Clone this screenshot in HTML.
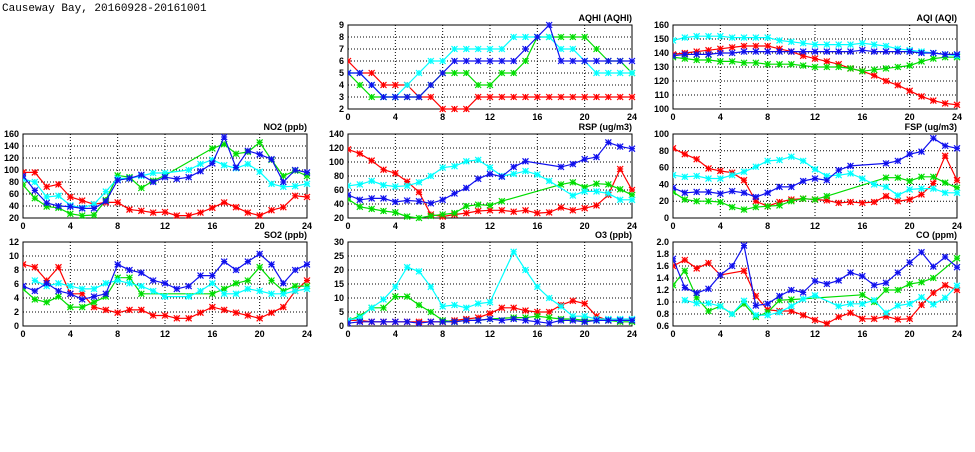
<!DOCTYPE html>
<html><head><meta charset="utf-8"><style>
body{margin:0;background:#fff;width:975px;height:447px;overflow:hidden;font-family:"Liberation Sans",sans-serif}
svg text{font-family:"Liberation Sans",sans-serif}
</style></head><body>
<svg id="chart" width="975" height="447" xmlns="http://www.w3.org/2000/svg">
<text x="2" y="11" font-size="11" font-family="Liberation Mono, monospace" style="font-family:'Liberation Mono',monospace">Causeway Bay, 20160928-20161001</text>
</svg>
<script>
const hours=[0,1,2,3,4,5,6,7,8,9,10,11,12,13,14,15,16,17,18,19,20,21,22,23,24];
const xTicks=[0,4,8,12,16,20,24];
const seriesColors=["#ff0000","#00dd00","#00ffff","#1010ee"];
const N=null;
// AQHI
const aqhiTicks=[2,3,4,5,6,7,8,9];
const aqhiRed=[6,5,5,4,4,4,3,3,2,2,2,3,3,3,3,3,3,3,3,3,3,3,3,3,3];
const aqhiGreen=[5,4,3,3,3,3,3,4,5,5,5,4,4,5,5,6,8,8,8,8,8,7,6,6,5];
const aqhiCyan=[5,5,4,3,3,4,5,6,6,7,7,7,7,7,8,8,8,8,7,7,6,5,5,5,5];
const aqhiBlue=[5,5,4,3,3,3,3,4,5,6,6,6,6,6,6,7,8,9,6,6,6,6,6,6,6];
// AQI
const aqiTicks=[100,110,120,130,140,150,160];
const aqiRed=[139,140,141,142,143,144,145,145,145,143,141,138,136,134,132,129,127,124,120,117,113,109,106,104,103];
const aqiGreen=[137,136,135,135,134,134,133,133,132,132,132,131,130,130,130,129,127,128,129,130,131,134,136,137,137];
const aqiCyan=[149,151,152,152,152,151,151,151,151,149,148,147,146,146,146,146,147,146,145,143,142,141,140,139,138];
const aqiBlue=[138,139,139,139,140,140,141,141,141,141,141,141,141,141,141,141,142,141,141,141,141,140,140,139,139];
// NO2
const no2Ticks=[20,40,60,80,100,120,140,160];
const no2Red=[96,96,72,76,55,49,43,46,46,34,32,29,30,24,24,29,37,46,38,29,24,33,38,57,55];
const no2Green=[75,53,39,37,27,24,25,50,91,88,70,82,91,N,N,N,136,143,127,130,146,117,90,99,90];
const no2Cyan=[85,80,55,57,41,37,43,64,86,86,90,95,95,N,100,110,117,108,103,110,97,77,72,73,77];
const no2Blue=[90,66,45,40,39,36,36,48,83,86,92,80,88,85,88,98,111,155,104,132,126,118,80,100,96];
// RSP
const rspTicks=[20,40,60,80,100,120,140];
const rspRed=[118,112,102,89,84,72,57,25,22,25,27,30,31,31,29,31,27,28,35,31,34,38,53,90,60];
const rspGreen=[47,36,33,30,28,22,20,23,25,27,37,39,38,44,N,N,N,N,68,71,64,69,68,61,53];
const rspCyan=[66,68,73,67,65,66,71,80,92,94,101,103,92,80,83,87,82,73,N,52,58,58,55,46,46];
const rspBlue=[53,46,48,48,43,45,44,41,46,55,63,76,83,79,93,101,N,N,93,97,104,107,128,122,119];
// FSP
const fspTicks=[0,20,40,60,80,100];
const fspRed=[83,76,70,59,56,54,45,20,14,19,22,23,22,21,18,19,18,19,26,20,22,28,41,74,45];
const fspGreen=[31,22,20,20,19,13,10,13,14,15,20,23,22,26,N,N,N,N,48,48,44,49,49,42,36];
const fspCyan=[51,49,50,47,47,51,55,61,68,69,73,68,58,50,51,53,47,40,37,27,34,35,35,30,30];
const fspBlue=[36,30,31,31,29,32,30,25,30,37,37,44,47,45,57,62,N,N,65,68,76,79,95,86,83];
// SO2
const so2Ticks=[0,2,4,6,8,10,12];
const so2Red=[8.8,8.4,6.5,8.4,4.6,4.6,2.7,2.3,1.9,2.3,2.3,1.5,1.5,1.1,1.1,1.9,2.7,2.3,1.9,1.5,1.1,1.9,2.7,5,6.5];
const so2Green=[5.3,3.8,3.4,4.2,2.7,2.7,3.4,4.2,6.9,6.9,4.6,N,N,N,N,N,4.6,5.3,6.1,6.5,8.4,6.5,5,5.7,5.7];
const so2Cyan=[N,6.5,5.7,6.1,5.7,5.3,5.3,6.1,6.5,6.1,5.7,5,4.2,N,4.2,5,6.1,4.6,4.6,5.3,5,4.6,4.6,5,5.3];
const so2Blue=[5.7,5,6.1,5,4.6,3.8,4.2,4.6,8.8,8,7.6,6.5,6.1,5.3,5.7,7.2,7.2,9.2,8,9.2,10.3,8.8,6.1,8,8.8];
// O3
const o3Ticks=[0,5,10,15,20,25,30];
const o3Red=[2,2,1.5,1.5,1.5,1.5,1.5,1.5,1.5,2,2.5,3,4.5,6.5,6.5,5.5,5,5,7.5,9,8,3.5,2,2,2];
const o3Green=[2,3.5,6.5,6.5,10.5,10.5,7.5,5,2,1.5,2,2,2.5,N,3,3,3.5,3,2.5,2.5,2,2,2,1.5,1.5];
const o3Cyan=[2,3,6.5,9.5,14,21,19.5,14,7,7.5,6.5,8,8.5,N,26.5,20,14,10,7,3.5,3.5,2.5,2.5,2.5,2.5];
const o3Blue=[1,1.5,1.5,1.5,1.5,1.5,1,1.5,1.5,1.5,2,2,2.5,2,2.5,2,1.5,1,2,2,1.5,2,2,2,2];
// CO
const coTicks=[0.6,0.8,1.0,1.2,1.4,1.6,1.8,2.0];
const coRed=[1.6,1.7,1.56,1.65,1.45,N,1.52,1.1,0.87,0.85,0.85,0.78,0.7,0.64,0.75,0.82,0.72,0.72,0.76,0.71,0.72,0.95,1.15,1.28,1.2];
const coGreen=[1.28,1.52,1.07,0.85,0.93,0.8,0.97,0.75,0.83,1.03,1.04,N,N,N,N,N,1.12,1.0,1.2,1.2,1.3,1.33,1.4,N,1.73];
const coCyan=[N,1.03,0.98,0.98,0.93,0.8,1.02,0.78,0.78,0.83,0.93,1.05,1.11,N,0.93,0.97,0.97,1.03,0.82,0.94,0.97,1.08,0.96,1.07,1.27];
const coBlue=[1.72,1.24,1.15,1.22,1.45,1.6,1.94,0.94,0.97,1.1,1.2,1.16,1.35,1.3,1.36,1.49,1.43,1.28,1.32,1.49,1.66,1.83,1.59,1.75,1.58];

const panels=[
 {name:"aqhi",title:"AQHI (AQHI)",col:1,row:0,ticks:aqhiTicks,dec:0,series:[aqhiRed,aqhiGreen,aqhiCyan,aqhiBlue]},
 {name:"aqi",title:"AQI (AQI)",col:2,row:0,ticks:aqiTicks,dec:0,series:[aqiRed,aqiGreen,aqiCyan,aqiBlue]},
 {name:"no2",title:"NO2 (ppb)",col:0,row:1,ticks:no2Ticks,dec:0,series:[no2Red,no2Green,no2Cyan,no2Blue]},
 {name:"rsp",title:"RSP (ug/m3)",col:1,row:1,ticks:rspTicks,dec:0,series:[rspRed,rspGreen,rspCyan,rspBlue]},
 {name:"fsp",title:"FSP (ug/m3)",col:2,row:1,ticks:fspTicks,dec:0,series:[fspRed,fspGreen,fspCyan,fspBlue]},
 {name:"so2",title:"SO2 (ppb)",col:0,row:2,ticks:so2Ticks,dec:0,series:[so2Red,so2Green,so2Cyan,so2Blue]},
 {name:"o3",title:"O3 (ppb)",col:1,row:2,ticks:o3Ticks,dec:0,series:[o3Red,o3Green,o3Cyan,o3Blue]},
 {name:"co",title:"CO (ppm)",col:2,row:2,ticks:coTicks,dec:1,series:[coRed,coGreen,coCyan,coBlue]}
];
const colX=[[23,307],[348,632],[673,957]];
const rowY=[[25,109],[134,218],[242,326]];
const svg=document.getElementById('chart');
const NS="http://www.w3.org/2000/svg";
function mk(tag,attrs,parent){const e=document.createElementNS(NS,tag);for(const k in attrs)e.setAttribute(k,attrs[k]);parent.appendChild(e);return e;}
const seriesNames=["red","green","cyan","blue"];
panels.forEach(p=>{
 const [x0,x1]=colX[p.col],[y0,y1]=rowY[p.row];
 const ymin=p.ticks[0],ymax=p.ticks[p.ticks.length-1];
 const sx=v=>x0+(v-0)/24*(x1-x0);
 const sy=v=>y1-(v-ymin)/(ymax-ymin)*(y1-y0);
 const g=mk('g',{},svg);
 
 
 // grid
 xTicks.forEach(t=>{
  if(t>0&&t<24){const l=mk('line',{x1:sx(t),x2:sx(t),y1:y0,y2:y1,stroke:"#000","stroke-width":1,"stroke-dasharray":"1,2"},g);
  }
  const tk=mk('text',{x:sx(t),y:y1+11,"font-size":9,"font-weight":"bold","text-anchor":"middle"},g);
  tk.textContent=t;
  
 });
 p.ticks.forEach(t=>{
  if(t>ymin&&t<ymax){const l=mk('line',{x1:x0,x2:x1,y1:sy(t),y2:sy(t),stroke:"#000","stroke-width":1,"stroke-dasharray":"1,2"},g);
  }
  const tk=mk('text',{x:x0-4,y:sy(t)+3,"font-size":9,"font-weight":"bold","text-anchor":"end"},g);
  tk.textContent=t.toFixed(p.dec);
  
 });
 const box=mk('rect',{x:x0,y:y0,width:x1-x0,height:y1-y0,fill:"none",stroke:"#000","stroke-width":1},g);
 
 const ttl=mk('text',{x:x1,y:y0-4,"font-size":9,"font-weight":"bold","text-anchor":"end"},g);
 ttl.textContent=p.title;
 
 const clip=mk('clipPath',{id:'c'+p.name},svg);
 mk('rect',{x:x0,y:y0-4,width:x1-x0+4,height:y1-y0+8},clip);
 p.series.forEach((arr,si)=>{
  const col=seriesColors[si];
  const sg=mk('g',{"clip-path":"url(#c"+p.name+")"},g);
  
  
  let d="";
  hours.forEach((h,i)=>{const v=arr[i];if(v===null||v===undefined)return;d+=(d?"L":"M")+sx(h).toFixed(1)+","+sy(v).toFixed(1);});
  const ln=mk('path',{d:d,fill:"none",stroke:col,"stroke-width":1.2},sg);
  
  hours.forEach((h,i)=>{const v=arr[i];if(v===null||v===undefined)return;
   const cx=sx(h),cy=sy(v),r=3;
   const m=mk('path',{d:`M${cx-r},${cy-r}L${cx+r},${cy+r}M${cx-r},${cy+r}L${cx+r},${cy-r}M${cx-r},${cy}L${cx+r},${cy}M${cx},${cy-r}L${cx},${cy+r}`,stroke:col,"stroke-width":1.2,fill:"none"},sg);
   
  });
 });
});
</script>
</body></html>
